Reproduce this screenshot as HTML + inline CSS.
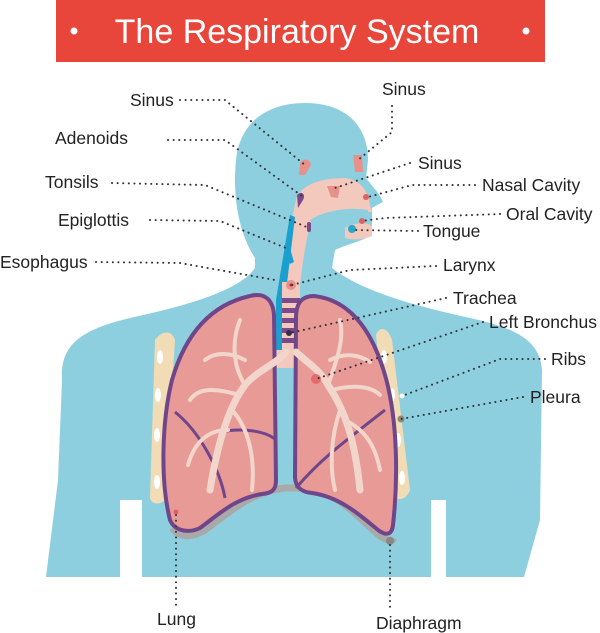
<!DOCTYPE html>
<html><head><meta charset="utf-8"><style>
html,body{margin:0;padding:0;background:#fff}
svg{display:block}
text{font-family:"Liberation Sans",sans-serif;font-size:17.5px;fill:#222}
.d{fill:none;stroke:#333;stroke-width:2;stroke-dasharray:0.1 5.5;stroke-linecap:round}
</style></head><body>
<svg width="600" height="633" viewBox="0 0 600 633">
<rect x="56" y="0" width="489" height="62" fill="#e8463a"/>
<circle cx="74" cy="31" r="3.5" fill="#fff"/><circle cx="526" cy="31" r="3.5" fill="#fff"/>
<text x="297" y="43" text-anchor="middle" style="font-size:34px;fill:#fff">The Respiratory System</text>
<!-- body -->
<path fill="#8ecfdf" d="M255,258 C240,235 232,200 236,160 C240,120 270,103 305,103 C345,103 368,125 368,160 L366,178 C372,186 380,194 383,202 L372,208 L372,235 C360,242 345,245 335,250 L332,268 C360,290 410,305 470,318 C515,328 540,340 542,370 L540,520 L524,577 L446,577 L446,500 L431,500 L431,577 L142,577 L142,500 L120,500 L120,577 L46,577 L58,480 L62,380 C60,345 80,330 130,318 C190,305 240,290 255,268 Z"/>
<!-- cavities -->
<path fill="#f2c9bc" d="M296,200 C300,185 320,178 345,178 C360,180 368,190 370,205 L372,212 C360,212 340,212 312,220 C305,240 302,270 300,285 L286,285 C288,250 290,225 296,200 Z"/>
<path fill="#8ecfdf" d="M310,220 C325,210 350,207 368,210 L368,216 C350,216 330,222 315,232 Z"/>
<path fill="#f2c9bc" d="M345,228 C355,222 368,222 372,226 L372,236 C362,240 352,240 345,238 Z"/>
<path fill="#e8918b" d="M300,163 C303,158 310,158 311,165 L305,175 L299,175 Z"/>
<path fill="#e8918b" d="M353,155 L362,155 L363,172 L355,172 Z"/>
<path fill="#e8918b" d="M327,186 L340,186 L338,198 L331,197 Z"/>
<path fill="#7a4a8a" d="M297,195 C302,190 306,195 303,200 L298,208 Z"/>
<rect x="307" y="222" width="4" height="10" rx="2" fill="#7a4a8a"/>
<circle cx="352" cy="229" r="4" fill="#2aa6c8"/>
<circle cx="366" cy="197" r="3" fill="#e06060"/>
<circle cx="362" cy="221" r="3" fill="#e06060"/>
<!-- esophagus -->
<path fill="#1a9fcf" d="M290,215 L295,217 L285,300 L285,355 L276,355 L276,300 Z"/>
<path fill="#1a9fcf" d="M284,245 L289,245 L294,262 L290,264 Z"/>
<!-- trachea -->
<rect x="282" y="282" width="18" height="70" fill="#f2c9bc"/>
<g fill="#7a4a8a"><rect x="282" y="298" width="18" height="5"/><rect x="282" y="308" width="18" height="5"/><rect x="282" y="318" width="18" height="5"/><rect x="282" y="328" width="18" height="5"/><rect x="282" y="338" width="18" height="5"/></g>
<circle cx="291" cy="285" r="5" fill="#e8918b"/><circle cx="291" cy="285" r="1.5" fill="#a33"/>
<path fill="#f2c9bc" d="M276,350 L306,350 L318,368 L264,368 Z"/>
<!-- ribs -->
<path fill="#f2dcb5" d="M155,340 C162,330 172,330 175,340 L165,500 C160,505 152,505 150,498 Z"/>
<path fill="#f2dcb5" d="M376,335 C380,325 388,328 392,340 L410,490 C406,500 398,502 393,495 Z"/>
<g fill="#fff"><ellipse cx="160" cy="357" rx="3" ry="7"/><ellipse cx="158" cy="395" rx="3" ry="7"/><ellipse cx="157" cy="435" rx="3" ry="7"/><ellipse cx="157" cy="482" rx="3" ry="7"/><ellipse cx="384" cy="357" rx="3" ry="7"/><ellipse cx="392" cy="395" rx="3" ry="7"/><ellipse cx="398" cy="440" rx="3" ry="7"/><ellipse cx="402" cy="478" rx="3" ry="7"/></g>
<!-- diaphragm -->
<path fill="none" stroke="#a9a9a9" stroke-width="7" d="M172,528 C182,540 195,536 205,530 C230,512 250,492 285,488 L305,488 C340,492 360,520 380,536 C386,540 392,542 394,538"/>
<!-- lungs -->
<path fill="#e89a96" stroke="#70468a" stroke-width="4" d="M250,296 C265,292 273,300 274,315 L276,480 C276,490 272,493 262,494 C235,498 218,515 200,528 C190,533 175,532 170,520 C160,480 162,420 172,380 C185,335 210,305 250,296 Z"/>
<path fill="#e89a96" stroke="#70468a" stroke-width="4" d="M314,296 C300,296 296,305 296,318 L295,478 C296,488 302,492 312,493 C340,497 360,515 378,530 C386,536 392,535 393,525 C398,480 398,420 385,375 C372,330 350,300 314,296 Z"/>
<path fill="none" stroke="#70468a" stroke-width="3" d="M175,412 C200,432 220,470 225,498 M220,432 C240,428 265,430 276,440 M296,488 C320,460 340,445 385,410"/>
<!-- bronchi tree -->
<g fill="none" stroke="#f2d6cb" stroke-linecap="round">
<path stroke-width="7" d="M286,352 C275,365 258,370 245,385 C230,405 218,440 210,490 M296,352 C310,365 320,370 328,385 C345,410 355,440 360,490"/>
<path stroke-width="4" d="M245,385 C235,370 230,345 240,320 M240,395 C220,390 200,385 190,400 M228,430 C210,430 195,440 188,465 M232,410 C250,430 255,460 252,490 M328,385 C335,365 345,340 340,320 M332,390 C350,385 370,385 380,395 M345,420 C365,430 375,445 380,470 M340,410 C330,440 330,470 335,490 M245,360 C230,352 215,352 205,360 M330,360 C345,352 360,355 370,362"/>
</g>
<!-- markers -->
<circle cx="289" cy="333" r="3" fill="#3a2a4a"/>
<circle cx="316" cy="379" r="5" fill="#e06060" opacity=".8"/>
<circle cx="176" cy="512" r="2.5" fill="#e06060"/>
<circle cx="402" cy="396" r="2.5" fill="#fff"/>
<circle cx="401" cy="419" r="3.5" fill="#8a8a7a"/>
<circle cx="390" cy="541" r="4" fill="#888"/>
<!-- leader lines -->
<path class="d" d="M180,100 L225,100 L305,165"/>
<path class="d" d="M392,106 L392,132 L358,160"/>
<path class="d" d="M168,140 L225,140 L302,196"/>
<path class="d" d="M410,163 L335,188"/>
<path class="d" d="M475,185 L412,185 L368,197"/>
<path class="d" d="M112,183 L205,185 L309,228"/>
<path class="d" d="M500,214 L385,218 L362,221"/>
<path class="d" d="M150,220 L220,221 L286,248"/>
<path class="d" d="M418,231 L355,230"/>
<path class="d" d="M96,262 L180,263 L275,280"/>
<path class="d" d="M436,266 L350,270 L292,285"/>
<path class="d" d="M446,298 L290,333"/>
<path class="d" d="M483,322 L316,379"/>
<path class="d" d="M545,359 L500,359 L402,396"/>
<path class="d" d="M523,397 L401,419"/>
<path class="d" d="M176,515 L176,606"/>
<path class="d" d="M390,545 L390,608"/>
<!-- labels -->
<text x="130" y="106">Sinus</text>
<text x="382" y="95">Sinus</text>
<text x="55" y="144">Adenoids</text>
<text x="418" y="169">Sinus</text>
<text x="482" y="191">Nasal Cavity</text>
<text x="45" y="188">Tonsils</text>
<text x="506" y="220">Oral Cavity</text>
<text x="58" y="226">Epiglottis</text>
<text x="423" y="237">Tongue</text>
<text x="0" y="268">Esophagus</text>
<text x="443" y="271">Larynx</text>
<text x="453" y="304">Trachea</text>
<text x="489" y="328">Left Bronchus</text>
<text x="551" y="365">Ribs</text>
<text x="530" y="403">Pleura</text>
<text x="157" y="625">Lung</text>
<text x="376" y="629">Diaphragm</text>
</svg>
</body></html>
